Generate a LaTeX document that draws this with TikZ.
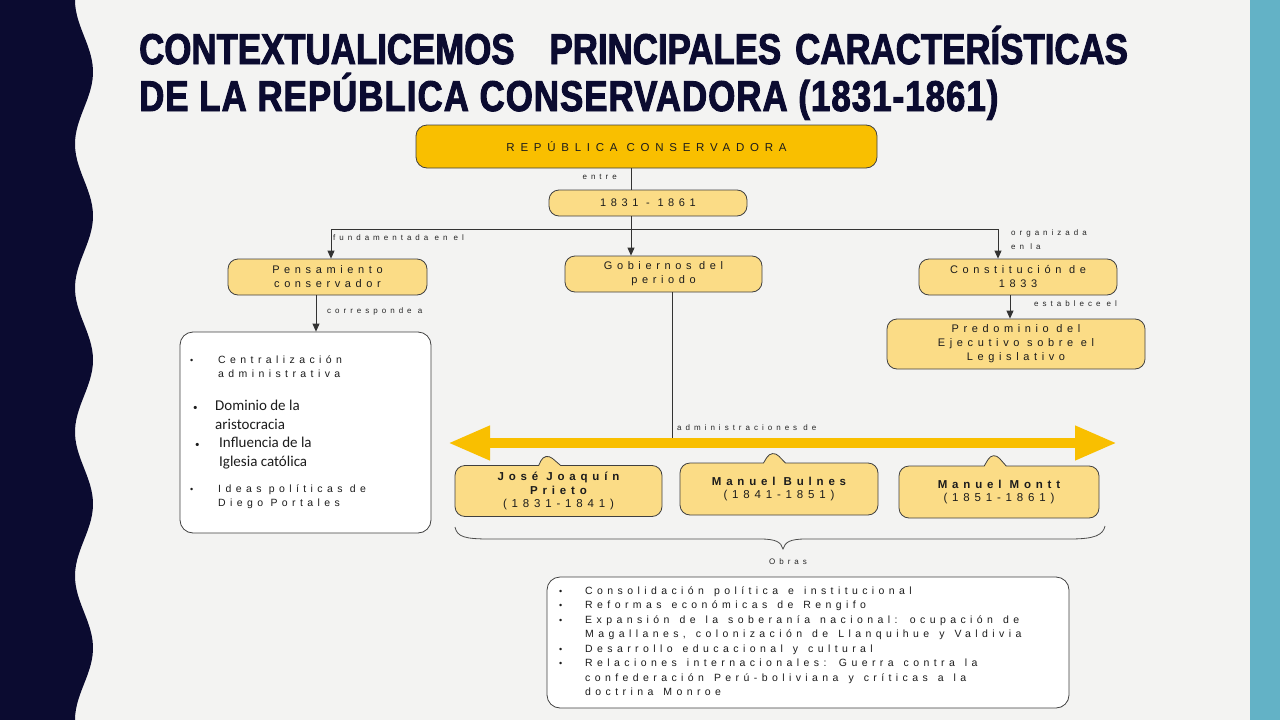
\documentclass[tikz,border=0pt]{standalone}
\usepackage{fontspec}
\setmainfont{Liberation Sans}
\newfontfamily\titlefont{Liberation Sans}[FakeStretch=0.81, BoldFeatures={FakeBold=2.2}]
\newfontfamily\trackedfont{Liberation Sans}[LetterSpace=42]
\newfontfamily\widefont{Liberation Sans}[LetterSpace=50]
\newfontfamily\calfont{Carlito}
\usetikzlibrary{calc}
\usetikzlibrary{arrows.meta}
\usetikzlibrary{shapes.callouts}

\definecolor{navy}{HTML}{0B0B30}
\definecolor{paper}{HTML}{F3F3F2}
\definecolor{teal}{HTML}{63B2C6}
\definecolor{gold}{HTML}{F9BF00}
\definecolor{softgold}{HTML}{FBDC86}
\definecolor{ink}{HTML}{1C1C1C}

\newcommand\dotmark{{\fontsize{9}{9}\selectfont •}}
\newcommand\wordgap{\spaceskip=10pt\relax}

\tikzset{
  goldbox/.style={draw=black!75, line width=0.8pt, rounded corners=11pt, fill=gold,
    inner sep=0pt, text=ink, font=\widefont\fontsize{11.5}{14}\selectfont},
  softbox/.style={draw=black!75, line width=0.8pt, rounded corners=10pt, fill=softgold,
    inner sep=0pt, align=center, text=ink, font=\trackedfont\fontsize{11}{14}\selectfont},
  namebox/.style={softbox, rectangle callout, callout pointer width=22pt,
    font=\trackedfont\fontsize{11.5}{13.5}\selectfont},
  listbox/.style={draw=black!75, line width=0.8pt, rounded corners=13pt, fill=white},
  itemtext/.style={inner sep=0pt, align=left, text=ink, font=\trackedfont\fontsize{10.5}{14}\selectfont},
  linklabel/.style={inner sep=0pt, align=left, text=black!85, font=\widefont\fontsize{8}{14}\selectfont},
  link/.style={draw=black!80, line width=0.8pt},
  linkarrow/.style={link, -{Triangle[length=8pt,width=7pt]}},
  bigarrow/.style={draw=gold, line width=10pt,
    {Triangle[length=42pt,width=32pt]}-{Triangle[length=42pt,width=32pt]}},
  braceline/.style={draw=black!70, line width=0.8pt}
}

\begin{document}
\begin{tikzpicture}[x=1pt,y=-1pt]
\useasboundingbox (0,0) rectangle (1280,720);
\fill[paper] (0,0) rectangle (1280,720);
\fill[navy] (0,0) -- plot[domain=0:720,samples=145] ({84-9*cos(2.5*\x)},\x) -- (0,720) -- cycle;
\fill[teal] (1250,0) rectangle (1280,720);

\node[anchor=base west, inner sep=0pt, text=navy, font=\titlefont\bfseries\fontsize{43}{48}\selectfont] (title1) at (139,64)
  {CONTEXTUALICEMOS\hspace{35pt}PRINCIPALES\hspace{14pt}CARACTERÍSTICAS};
\node[anchor=base west, inner sep=0pt, text=navy, font=\titlefont\bfseries\fontsize{43}{48}\selectfont] (title2) at (139,111)
  {\addfontfeature{LetterSpace=2.4}DE LA REPÚBLICA CONSERVADORA (1831-1861)};

\node[goldbox, minimum width=461pt, minimum height=43pt] (rep) at (646.5,146.5) {REPÚBLICA CONSERVADORA};
\node[softbox, minimum width=198pt, minimum height=26pt] (yrs) at (648,203) {1831 - 1861};
\node[softbox, minimum width=199pt, minimum height=36pt] (pens) at (327.5,277) {Pensamiento\\conservador};
\node[softbox, minimum width=197pt, minimum height=36pt] (gob) at (663.5,274) {Gobiernos del\\periodo};
\node[softbox, minimum width=198pt, minimum height=36pt] (cons) at (1018,277) {Constitución de\\1833};
\node[softbox, minimum width=258pt, minimum height=50pt] (pred) at (1016,344) {Predominio del\\Ejecutivo sobre el\\Legislativo};

\node[listbox, minimum width=251pt, minimum height=201pt] (rasgos) at (305.5,432.5) {};
\node[itemtext, anchor=west] (rasgo1) at (190,367) {\makebox[28pt][l]{\dotmark}Centralización\\\hspace*{28pt}administrativa};
\node[itemtext, anchor=west, font=\calfont\fontsize{15}{19}\selectfont] (rasgo2) at (193,414.5) {\makebox[22pt][l]{\dotmark}Dominio de la\\\hspace*{22pt}aristocracia};
\node[itemtext, anchor=west, font=\calfont\fontsize{15}{19}\selectfont] (rasgo3) at (195,453.5) {\makebox[24pt][l]{\dotmark}Influencia de la\\\hspace*{24pt}Iglesia católica};
\node[itemtext, anchor=west] (rasgo4) at (190,497) {\makebox[28pt][l]{\dotmark}Ideas políticas de\\\hspace*{28pt}Diego Portales};

\coordinate (spine) at (631,229);
\coordinate (forkL) at (331,229);
\coordinate (forkR) at (998,229);
\coordinate (p2r) at (316,0);
\coordinate (c2p) at (1010,0);
\coordinate (g2a) at (672,0);

\draw[link] (rep.south -| spine) -- (yrs.north -| spine);
\draw[linkarrow] (yrs.south -| spine) -- (gob.north -| spine);
\draw[link] (forkL) -- (forkR);
\draw[linkarrow] (forkL) -- (pens.north -| forkL);
\draw[linkarrow] (forkR) -- (cons.north -| forkR);
\draw[linkarrow] (pens.south -| p2r) -- (rasgos.north -| p2r);
\draw[linkarrow] (cons.south -| c2p) -- (pred.north -| c2p);

\node[linklabel, anchor=east] (lblentre) at (617,177) {entre};
\node[linklabel, anchor=west] (lblfund) at (333,238) {fundamentada en el};
\node[linklabel, anchor=west] (lblorg) at (1011,240) {organizada\\en la};
\node[linklabel, anchor=west] (lblcorr) at (327,311) {corresponde a};
\node[linklabel, anchor=west] (lblest) at (1034,304) {establece el};

\coordinate (lineL) at (448,443);
\coordinate (lineR) at (1117,443);
\draw[link] (gob.south -| g2a) -- (lineL -| g2a);
\draw[bigarrow] (lineL) -- (lineR);
\node[linklabel, anchor=west] (lbladm) at (677,428) {administraciones de};

\node[namebox, minimum width=207pt, minimum height=51pt, callout absolute pointer={(545,452)}] (prieto) at (558.5,491)
  {\bfseries José Joaquín\\\bfseries Prieto\\(1831-1841)};
\node[namebox, minimum width=198pt, minimum height=52pt, callout absolute pointer={(772,449)}] (bulnes) at (779,489)
  {\bfseries Manuel Bulnes\\(1841-1851)};
\node[namebox, minimum width=200pt, minimum height=52pt, callout absolute pointer={(993,451)}] (montt) at (999,492)
  {\bfseries Manuel Montt\\(1851-1861)};

\coordinate (braceL) at (455,527);
\coordinate (braceR) at (1105,526);
\coordinate (braceTip) at (783,549);
\draw[braceline] (braceL) .. controls (457,537) and (465,539) .. (490,539) -- (760,539)
  .. controls (776,539) and (781,542) .. (braceTip) .. controls (785,542) and (790,539) .. (806,539)
  -- (1070,539) .. controls (1095,539) and (1103,535) .. (braceR);
\node[linklabel] (lblobras) at (788,562) {Obras};

\node[listbox, minimum width=522pt, minimum height=131pt] (obras) at (808,642.5) {};
\node[itemtext, anchor=west, font=\trackedfont\fontsize{10.5}{14.5}\selectfont\wordgap] (obraslist) at (559,641)
  {\makebox[26pt][l]{\dotmark}Consolidación política e institucional\\
   \makebox[26pt][l]{\dotmark}Reformas económicas de Rengifo\\
   \makebox[26pt][l]{\dotmark}Expansión de la soberanía nacional: ocupación de\\
   \hspace*{26pt}Magallanes, colonización de Llanquihue y Valdivia\\
   \makebox[26pt][l]{\dotmark}Desarrollo educacional y cultural\\
   \makebox[26pt][l]{\dotmark}Relaciones internacionales: Guerra contra la\\
   \hspace*{26pt}confederación Perú-boliviana y críticas a la\\
   \hspace*{26pt}doctrina Monroe};
\end{tikzpicture}
\end{document}
